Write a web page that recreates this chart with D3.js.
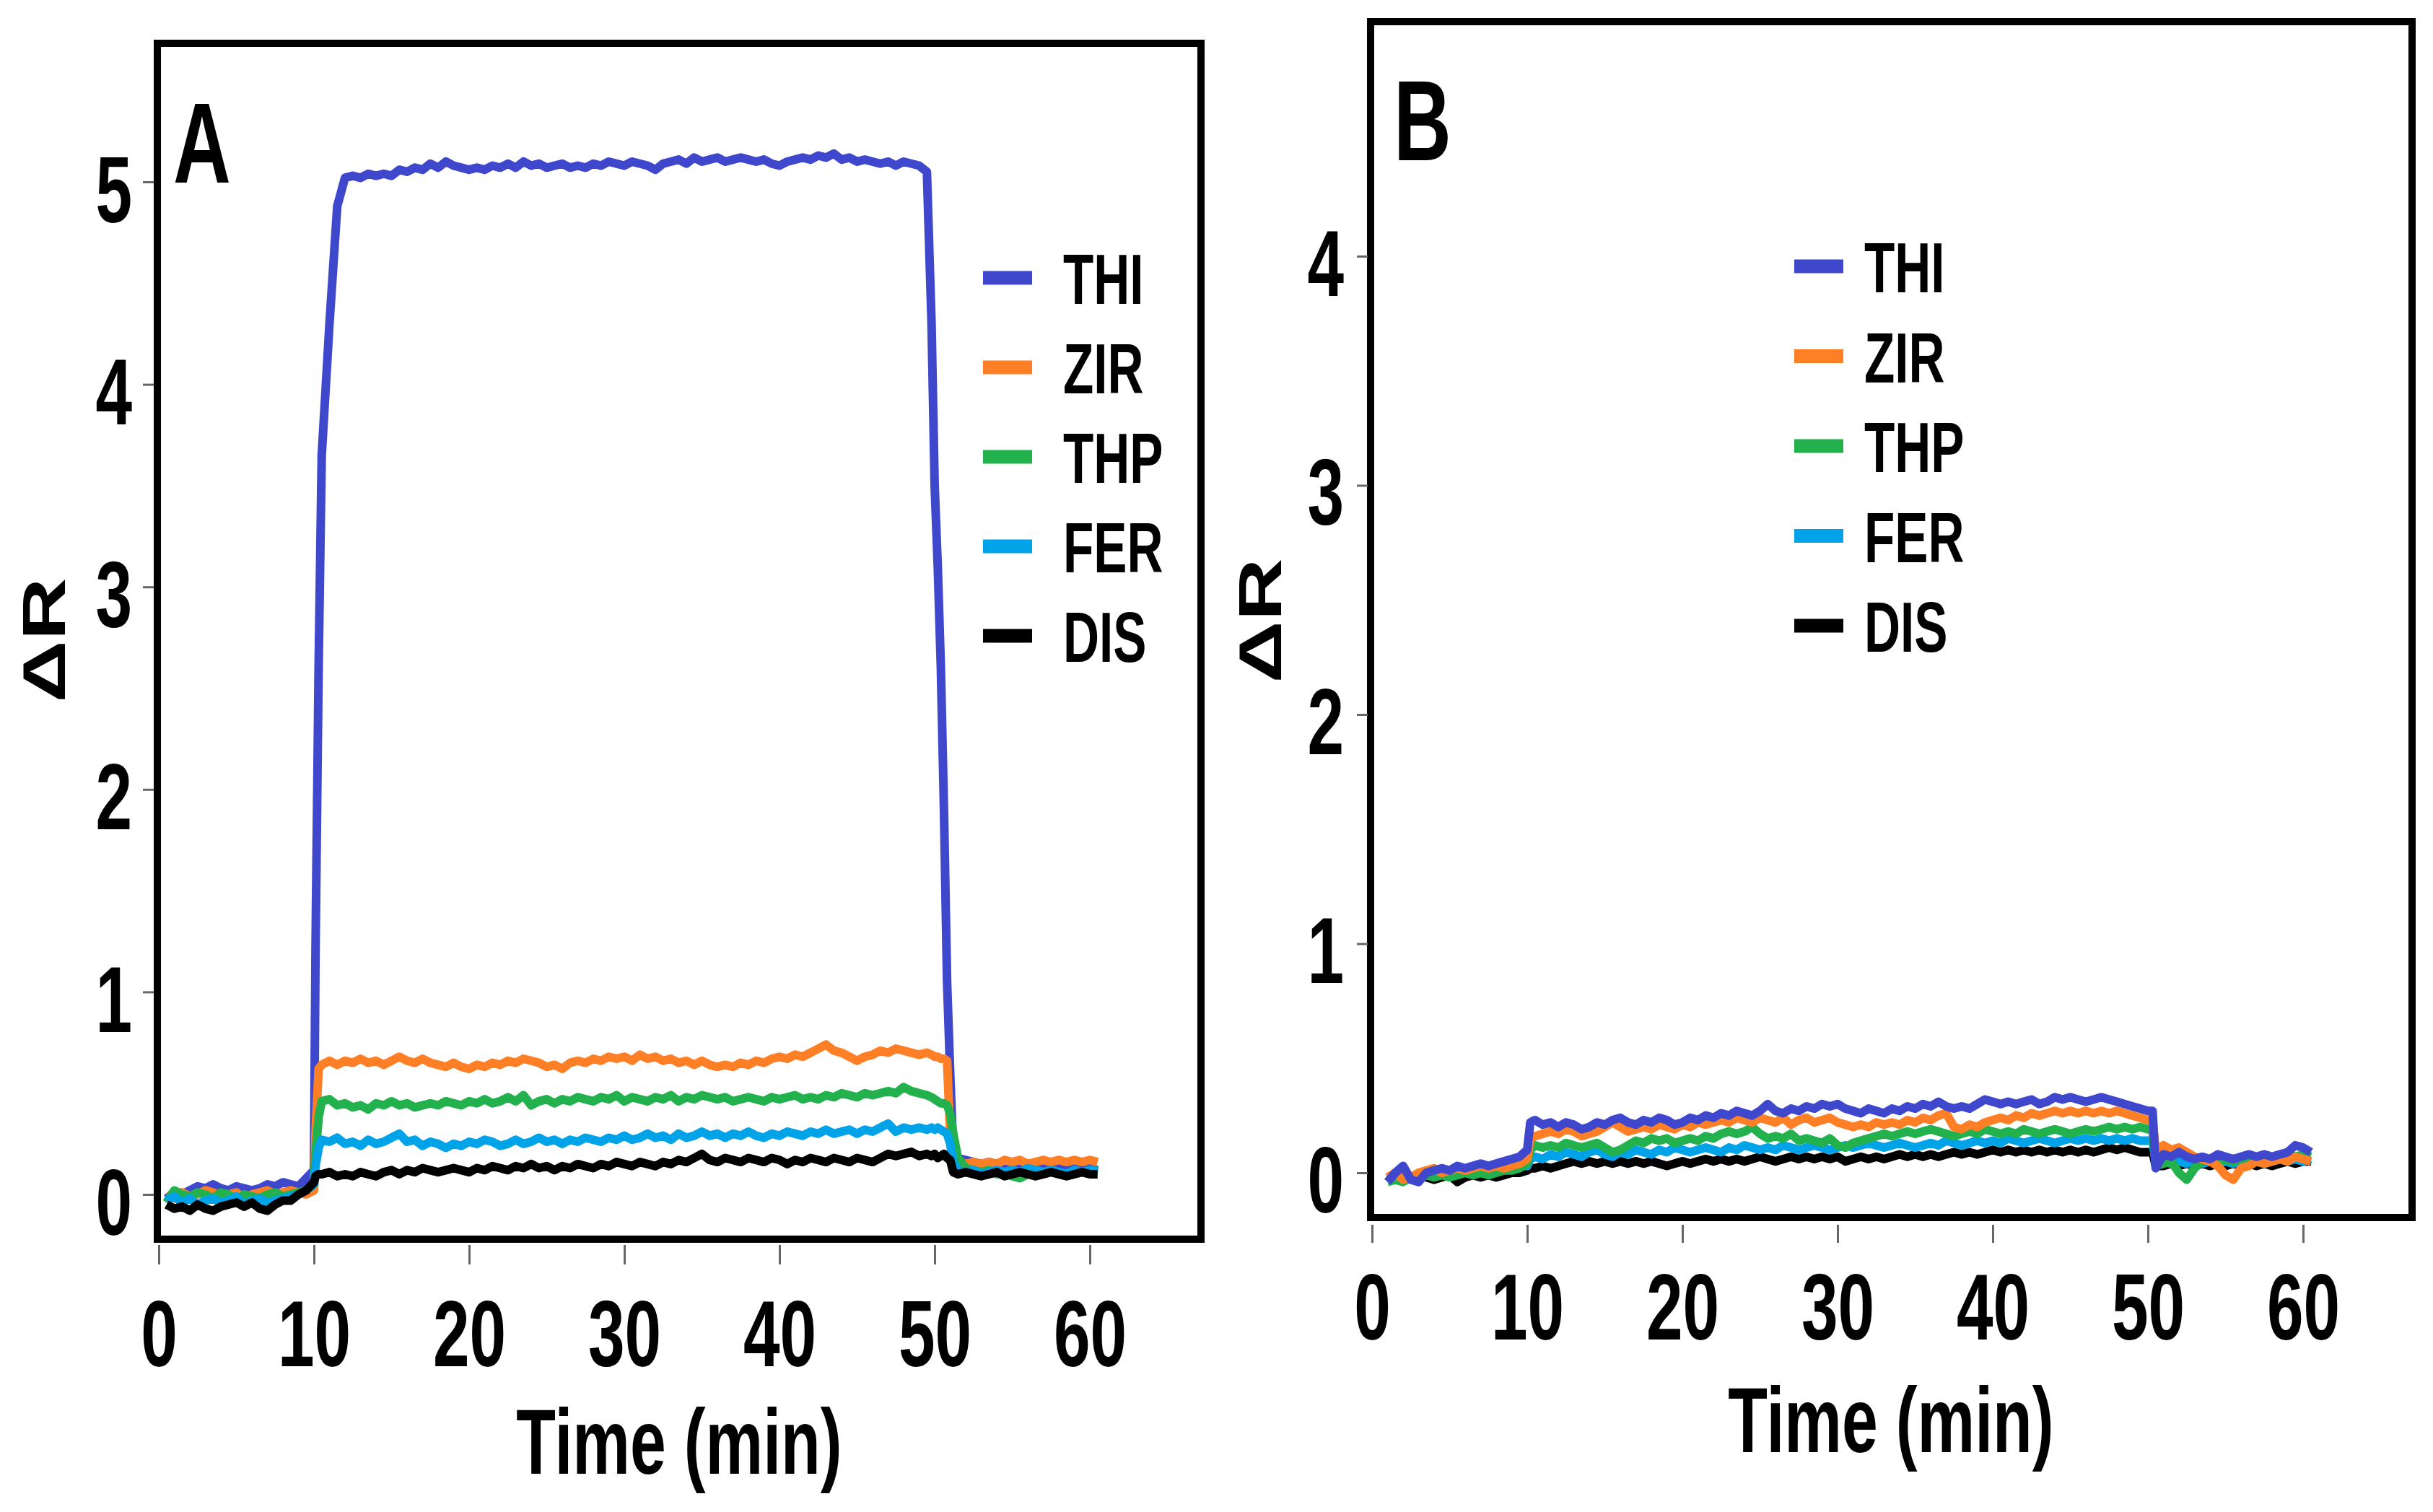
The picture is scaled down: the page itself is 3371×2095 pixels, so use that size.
<!DOCTYPE html>
<html>
<head>
<meta charset="utf-8">
<script src="https://cdn.jsdelivr.net/npm/d3@7"></script>
<style>
  body { margin: 0; background: #fff; }
  text { font-family: "Liberation Sans", Arial, sans-serif; font-weight: bold; fill: #000; }
</style>
</head>
<body>
<script>
// ---- data ----
const seriesNames = ["THI", "ZIR", "THP", "FER", "DIS"];
const seriesColors = ["#3f48cc", "#ff7f27", "#22b14c", "#00a2e8", "#000000"];
const xTicks = [0, 10, 20, 30, 40, 50, 60];
const yTicksA = [0, 1, 2, 3, 4, 5];
const yTicksB = [0, 1, 2, 3, 4];

// panel A (min)
const timeA = [
  0.5,1,1.5,2,2.5,3,3.5,4,4.5,5,
  5.5,6,6.5,7,7.5,8,8.5,9,9.5,10,
  10.1,10.3,10.5,11,11.5,12,12.5,13,13.5,14,
  14.5,15,15.5,16,16.5,17,17.5,18,18.5,19,
  19.5,20,20.5,21,21.5,22,22.5,23,23.5,24,
  24.5,25,25.5,26,26.5,27,27.5,28,28.5,29,
  29.5,30,30.5,31,31.5,32,32.5,33,33.5,34,
  34.5,35,35.5,36,36.5,37,37.5,38,38.5,39,
  39.5,40,40.5,41,41.5,42,42.5,43,43.5,44,
  44.5,45,45.5,46,46.5,47,47.5,48,48.5,49,
  49.5,49.8,50,50.2,50.4,50.6,50.8,51,51.2,51.5,
  52,52.5,53,53.5,54,54.5,55,55.5,56,56.5,
  57,57.5,58,58.5,59,59.5,60,60.5
];
const thiA = [
  -0.02,0.01,0.0,0.02,0.04,0.03,0.05,0.03,0.02,0.04,
  0.03,0.02,0.03,0.05,0.04,0.06,0.05,0.04,0.08,0.12,
  1.2,2.6,3.65,4.3,4.88,5.02,5.03,5.02,5.04,5.03,
  5.04,5.03,5.06,5.05,5.07,5.06,5.09,5.07,5.1,5.08,
  5.07,5.06,5.07,5.06,5.08,5.07,5.09,5.07,5.1,5.08,
  5.09,5.07,5.08,5.09,5.07,5.08,5.07,5.09,5.08,5.1,
  5.09,5.08,5.1,5.09,5.08,5.06,5.09,5.1,5.11,5.09,
  5.12,5.1,5.11,5.12,5.1,5.11,5.12,5.11,5.1,5.11,
  5.09,5.08,5.1,5.11,5.12,5.11,5.13,5.12,5.14,5.11,
  5.12,5.1,5.11,5.1,5.09,5.1,5.08,5.1,5.09,5.08,
  5.05,4.3,3.5,3.1,2.6,1.9,1.05,0.6,0.2,0.18,
  0.17,0.16,0.15,0.16,0.15,0.14,0.15,0.14,0.13,0.14,
  0.13,0.14,0.13,0.12,0.13,0.12,0.13,0.12
];
const zirA = [
  0.0,-0.02,0.01,-0.01,0.0,0.02,0.01,-0.01,0.0,0.01,
  -0.02,0.0,0.01,0.02,0.0,0.01,0.02,0.01,0.0,0.02,
  0.3,0.62,0.64,0.66,0.64,0.66,0.65,0.67,0.65,0.66,
  0.64,0.66,0.68,0.66,0.65,0.67,0.65,0.64,0.63,0.65,
  0.63,0.62,0.64,0.63,0.65,0.64,0.66,0.65,0.67,0.66,
  0.65,0.63,0.64,0.62,0.65,0.66,0.65,0.67,0.66,0.68,
  0.67,0.68,0.66,0.69,0.67,0.68,0.66,0.67,0.65,0.66,
  0.64,0.66,0.64,0.63,0.64,0.63,0.65,0.64,0.66,0.65,
  0.67,0.68,0.67,0.69,0.68,0.7,0.72,0.74,0.71,0.7,
  0.68,0.66,0.68,0.69,0.71,0.7,0.72,0.71,0.7,0.69,
  0.7,0.69,0.68,0.68,0.67,0.67,0.66,0.3,0.2,0.16,
  0.15,0.16,0.15,0.16,0.15,0.17,0.16,0.17,0.15,0.16,
  0.17,0.16,0.17,0.16,0.17,0.16,0.17,0.16
];
const thpA = [
  -0.04,0.02,0.0,-0.01,0.01,0.0,-0.02,0.01,0.0,-0.03,
  0.0,-0.01,-0.02,0.0,0.01,-0.01,0.0,0.01,0.02,0.05,
  0.2,0.38,0.46,0.47,0.44,0.45,0.43,0.44,0.42,0.45,
  0.44,0.46,0.44,0.45,0.43,0.44,0.45,0.44,0.46,0.45,
  0.44,0.46,0.45,0.47,0.45,0.46,0.48,0.46,0.49,0.44,
  0.46,0.47,0.45,0.47,0.46,0.48,0.47,0.46,0.48,0.47,
  0.49,0.46,0.48,0.47,0.46,0.48,0.47,0.49,0.46,0.48,
  0.47,0.49,0.48,0.47,0.48,0.46,0.47,0.48,0.47,0.46,
  0.48,0.47,0.48,0.49,0.47,0.48,0.47,0.49,0.48,0.5,
  0.49,0.48,0.5,0.49,0.5,0.51,0.5,0.53,0.51,0.5,
  0.49,0.48,0.47,0.46,0.45,0.45,0.44,0.4,0.3,0.18,
  0.13,0.12,0.11,0.12,0.1,0.11,0.09,0.08,0.1,0.11,
  0.1,0.12,0.11,0.1,0.12,0.11,0.12,0.11
];
const ferA = [
  -0.03,-0.01,-0.04,-0.02,-0.05,-0.03,-0.02,-0.04,-0.03,-0.01,
  -0.05,-0.03,-0.02,-0.04,-0.03,-0.02,-0.01,0.0,0.02,0.05,
  0.14,0.23,0.27,0.26,0.28,0.25,0.26,0.24,0.27,0.25,
  0.26,0.28,0.3,0.26,0.27,0.24,0.26,0.25,0.23,0.25,
  0.24,0.26,0.25,0.27,0.26,0.24,0.25,0.27,0.25,0.26,
  0.28,0.26,0.27,0.25,0.27,0.26,0.28,0.27,0.26,0.28,
  0.27,0.29,0.27,0.28,0.3,0.28,0.29,0.27,0.3,0.28,
  0.29,0.31,0.29,0.3,0.28,0.3,0.29,0.31,0.29,0.28,
  0.3,0.29,0.31,0.3,0.29,0.31,0.3,0.32,0.3,0.31,
  0.32,0.3,0.32,0.31,0.33,0.35,0.31,0.33,0.32,0.33,
  0.32,0.33,0.32,0.33,0.32,0.31,0.3,0.25,0.16,0.12,
  0.11,0.12,0.1,0.11,0.12,0.11,0.12,0.11,0.13,0.12,
  0.11,0.12,0.11,0.1,0.12,0.11,0.12,0.12
];
const disA = [
  -0.05,-0.07,-0.06,-0.08,-0.05,-0.07,-0.08,-0.06,-0.05,-0.04,
  -0.06,-0.04,-0.07,-0.08,-0.05,-0.03,-0.03,0.0,0.02,0.06,
  0.09,0.1,0.1,0.11,0.09,0.1,0.09,0.11,0.1,0.09,
  0.11,0.12,0.1,0.12,0.11,0.13,0.12,0.11,0.12,0.13,
  0.12,0.11,0.13,0.12,0.14,0.13,0.12,0.14,0.13,0.15,
  0.13,0.14,0.12,0.14,0.13,0.15,0.14,0.13,0.15,0.14,
  0.16,0.15,0.14,0.16,0.15,0.14,0.16,0.15,0.17,0.16,
  0.18,0.2,0.17,0.16,0.18,0.17,0.16,0.18,0.17,0.16,
  0.18,0.17,0.15,0.17,0.16,0.18,0.17,0.16,0.18,0.17,
  0.16,0.18,0.17,0.16,0.18,0.2,0.19,0.2,0.21,0.19,
  0.2,0.19,0.2,0.18,0.19,0.2,0.18,0.17,0.11,0.1,
  0.11,0.1,0.09,0.1,0.11,0.09,0.1,0.11,0.1,0.09,
  0.1,0.11,0.1,0.09,0.1,0.11,0.1,0.1
];

// panel B (min)
const timeB = [
  1,1.5,2,2.5,3,3.5,4,4.5,5,5.5,
  6,6.5,7,7.5,8,8.5,9,9.5,10,10.2,
  10.5,11,11.5,12,12.5,13,13.5,14,14.5,15,
  15.5,16,16.5,17,17.5,18,18.5,19,19.5,20,
  20.5,21,21.5,22,22.5,23,23.5,24,24.5,25,
  25.5,26,26.5,27,27.5,28,28.5,29,29.5,30,
  30.5,31,31.5,32,32.5,33,33.5,34,34.5,35,
  35.5,36,36.5,37,37.5,38,38.5,39,39.5,40,
  40.5,41,41.5,42,42.5,43,43.5,44,44.5,45,
  45.5,46,46.5,47,47.5,48,48.5,49,49.5,50,
  50.3,50.5,51,51.5,52,52.5,53,53.5,54,54.5,
  55,55.5,56,56.5,57,57.5,58,58.5,59,59.5,
  60,60.5
];
const thiB = [
  -0.04,0.0,0.03,-0.03,-0.04,0.0,0.01,0.02,0.01,0.03,
  0.02,0.03,0.04,0.03,0.04,0.05,0.06,0.07,0.1,0.22,
  0.23,0.21,0.22,0.2,0.22,0.21,0.19,0.2,0.22,0.21,
  0.23,0.24,0.22,0.21,0.23,0.22,0.24,0.23,0.21,0.22,
  0.24,0.23,0.25,0.24,0.26,0.25,0.27,0.26,0.25,0.27,
  0.3,0.27,0.26,0.28,0.27,0.29,0.28,0.3,0.29,0.3,
  0.28,0.27,0.26,0.28,0.27,0.26,0.28,0.27,0.29,0.28,
  0.3,0.29,0.31,0.29,0.28,0.29,0.28,0.3,0.32,0.31,
  0.3,0.31,0.3,0.31,0.32,0.3,0.31,0.33,0.32,0.33,
  0.32,0.31,0.32,0.33,0.32,0.31,0.3,0.29,0.28,0.27,
  0.27,0.02,0.08,0.07,0.09,0.07,0.06,0.07,0.06,0.08,
  0.07,0.06,0.07,0.08,0.07,0.08,0.07,0.08,0.09,0.12,
  0.11,0.09
];
const zirB = [
  -0.02,0.0,-0.03,-0.02,0.0,0.01,0.02,0.0,0.01,0.02,
  0.01,0.02,0.03,0.02,0.03,0.02,0.03,0.04,0.06,0.15,
  0.16,0.17,0.18,0.17,0.19,0.18,0.16,0.17,0.18,0.2,
  0.22,0.2,0.18,0.19,0.2,0.19,0.21,0.2,0.19,0.21,
  0.2,0.22,0.21,0.22,0.23,0.22,0.24,0.23,0.22,0.24,
  0.23,0.22,0.24,0.21,0.23,0.24,0.22,0.23,0.24,0.22,
  0.21,0.2,0.21,0.2,0.22,0.21,0.22,0.21,0.23,0.22,
  0.24,0.23,0.25,0.26,0.2,0.19,0.21,0.2,0.22,0.23,
  0.24,0.23,0.25,0.24,0.26,0.25,0.26,0.27,0.26,0.27,
  0.26,0.27,0.26,0.27,0.26,0.27,0.26,0.25,0.24,0.23,
  0.23,0.1,0.12,0.1,0.11,0.09,0.07,0.06,0.05,0.03,
  -0.01,-0.03,0.02,0.03,0.05,0.04,0.05,0.06,0.05,0.07,
  0.06,0.05
];
const thpB = [
  -0.04,-0.03,-0.04,-0.02,-0.03,-0.01,-0.02,-0.01,-0.02,-0.01,
  0.0,-0.01,0.0,-0.01,0.0,0.01,0.01,0.02,0.04,0.1,
  0.12,0.11,0.12,0.11,0.13,0.12,0.11,0.12,0.13,0.11,
  0.09,0.1,0.12,0.14,0.13,0.15,0.14,0.15,0.13,0.14,
  0.15,0.14,0.16,0.15,0.17,0.18,0.17,0.18,0.2,0.17,
  0.15,0.16,0.15,0.17,0.14,0.15,0.14,0.13,0.15,0.12,
  0.11,0.13,0.14,0.15,0.16,0.17,0.16,0.17,0.18,0.17,
  0.18,0.19,0.18,0.17,0.16,0.17,0.18,0.17,0.19,0.18,
  0.17,0.18,0.17,0.19,0.18,0.17,0.18,0.19,0.18,0.17,
  0.18,0.19,0.18,0.19,0.2,0.19,0.2,0.19,0.2,0.19,
  0.19,0.03,0.04,0.05,0.0,-0.03,0.02,0.05,0.06,0.05,
  0.06,0.05,0.06,0.07,0.06,0.07,0.06,0.07,0.08,0.07,
  0.08,0.07
];
const ferB = [
  -0.03,-0.02,0.0,-0.02,-0.01,0.0,0.01,0.0,0.01,0.0,
  0.01,0.02,0.01,0.02,0.01,0.02,0.03,0.03,0.03,0.06,
  0.07,0.06,0.08,0.07,0.09,0.08,0.07,0.09,0.1,0.08,
  0.07,0.09,0.08,0.1,0.09,0.08,0.1,0.09,0.11,0.1,
  0.09,0.1,0.11,0.1,0.09,0.11,0.1,0.12,0.11,0.1,
  0.11,0.1,0.12,0.11,0.1,0.11,0.12,0.11,0.1,0.11,
  0.12,0.11,0.12,0.13,0.12,0.11,0.12,0.13,0.12,0.11,
  0.12,0.13,0.12,0.14,0.13,0.12,0.13,0.14,0.13,0.14,
  0.13,0.15,0.14,0.13,0.14,0.15,0.14,0.13,0.14,0.15,
  0.14,0.15,0.14,0.15,0.14,0.15,0.14,0.15,0.14,0.14,
  0.14,0.05,0.05,0.04,0.05,0.04,0.05,0.04,0.05,0.04,
  0.05,0.04,0.05,0.06,0.05,0.04,0.05,0.06,0.05,0.06,
  0.05,0.06
];
const disB = [
  -0.03,-0.02,-0.01,-0.02,-0.01,-0.02,-0.03,-0.02,-0.01,-0.04,
  -0.02,-0.01,-0.02,-0.01,-0.02,-0.01,0.0,0.0,0.01,0.02,
  0.02,0.03,0.02,0.03,0.04,0.05,0.04,0.05,0.04,0.05,
  0.04,0.05,0.04,0.05,0.04,0.05,0.04,0.03,0.04,0.05,
  0.04,0.05,0.06,0.05,0.06,0.05,0.06,0.05,0.06,0.07,
  0.06,0.05,0.06,0.07,0.06,0.07,0.06,0.07,0.06,0.07,
  0.05,0.06,0.07,0.06,0.07,0.06,0.07,0.08,0.07,0.08,
  0.07,0.08,0.07,0.08,0.09,0.08,0.09,0.08,0.09,0.1,
  0.09,0.1,0.09,0.1,0.09,0.1,0.09,0.1,0.09,0.1,
  0.09,0.1,0.09,0.1,0.11,0.1,0.11,0.1,0.09,0.09,
  0.09,0.03,0.03,0.04,0.03,0.04,0.03,0.04,0.03,0.04,
  0.03,0.04,0.03,0.04,0.03,0.04,0.03,0.04,0.05,0.04,
  0.05,0.05
];

// ---- drawing ----
const SX = 0.7; // the figure's lettering is horizontally condensed

const svg = d3.select("body").append("svg")
    .attr("width", 3371)
    .attr("height", 2095);

svg.append("rect").attr("width", 3371).attr("height", 2095).attr("fill", "#fff");

function drawPanel(p) {
  const g = svg.append("g");
  const x = d3.scaleLinear().domain([0, 60]).range(p.xRange);
  const y = d3.scaleLinear().domain([0, p.yMax]).range(p.yRange);

  // data lines
  const line = d3.line()
      .x((d, i) => x(p.time[i]))
      .y(d => y(d));
  p.order.forEach(k => {
    g.append("path")
        .datum(p.values[k])
        .attr("d", line)
        .attr("fill", "none")
        .attr("stroke", seriesColors[k])
        .attr("stroke-width", 12)
        .attr("stroke-linejoin", "round");
  });

  // frame
  const [fx0, fy0, fx1, fy1] = p.frame;
  g.append("rect")
      .attr("x", fx0).attr("y", fy0)
      .attr("width", fx1 - fx0).attr("height", fy1 - fy0)
      .attr("fill", "none")
      .attr("stroke", "#000")
      .attr("stroke-width", 10);

  // x axis
  const xa = g.append("g")
      .attr("transform", `translate(0,${p.xAxisY})`)
      .call(d3.axisBottom(x).tickValues(xTicks).tickFormat(d3.format("d"))
        .tickSize(p.xTickLen).tickSizeOuter(0));
  xa.select(".domain").remove();
  xa.selectAll(".tick line").attr("stroke", "#666").attr("stroke-width", 3);
  xa.selectAll(".tick text")
      .attr("x", 0).attr("y", 0).attr("dy", null)
      .attr("transform", `translate(0,${p.xLabelDy}) scale(${SX},1)`)
      .attr("font-size", 130)
      .attr("font-family", null)
      .attr("text-anchor", "middle");

  // y axis
  const ya = g.append("g")
      .attr("transform", `translate(${p.yAxisX},0)`)
      .call(d3.axisLeft(y).tickValues(p.yTicks).tickFormat(d3.format("d"))
        .tickSize(15).tickSizeOuter(0));
  ya.select(".domain").remove();
  ya.selectAll(".tick line").attr("stroke", "#666").attr("stroke-width", 3);
  ya.selectAll(".tick text")
      .attr("x", 0).attr("y", 0).attr("dy", null)
      .attr("transform", `translate(${p.yLabelDx},${p.yLabelDy}) scale(${SX},1)`)
      .attr("font-size", 130)
      .attr("font-family", null)
      .attr("text-anchor", "end");

  // panel letter
  g.append("text")
      .attr("transform", `translate(${p.letter[0]},${p.letter[1]}) scale(${SX},1)`)
      .attr("font-size", 158)
      .text(p.label);

  // axis titles
  g.append("text")
      .attr("transform", `translate(${p.title[0]},${p.title[1]}) scale(${SX},1)`)
      .attr("text-anchor", "middle")
      .attr("font-size", 128)
      .text("Time (min)");
  g.append("text")
      .attr("transform", `translate(${p.yTitle[0]},${p.yTitle[1]}) rotate(-90) scale(1,${SX})`)
      .attr("text-anchor", "middle")
      .attr("font-size", 120)
      .text("\u0394R");

  // legend
  const lg = p.legend;
  seriesNames.forEach((name, i) => {
    const ly = lg.y0 + i * lg.dy;
    g.append("line")
        .attr("x1", lg.x1).attr("x2", lg.x2)
        .attr("y1", ly).attr("y2", ly)
        .attr("stroke", seriesColors[i])
        .attr("stroke-width", 19);
    g.append("text")
        .attr("transform", `translate(${lg.tx},${ly + 36}) scale(${SX},1)`)
        .attr("font-size", 99)
        .text(name);
  });
}

drawPanel({
  label: "A",
  time: timeA,
  values: [thiA, zirA, thpA, ferA, disA],
  order: [0, 1, 2, 3, 4],
  xRange: [220, 1510],
  yRange: [1655, 252],
  yMax: 5,
  yTicks: yTicksA,
  frame: [218, 60, 1664, 1717],
  xAxisY: 1725, xTickLen: 27, xLabelDy: 168,
  yAxisX: 213, yLabelDx: -30, yLabelDy: 55,
  letter: [240, 253],
  title: [941, 2042],
  yTitle: [90, 887],
  legend: { x1: 1362, x2: 1430, tx: 1473, y0: 385, dy: 124 }
});

drawPanel({
  label: "B",
  time: timeB,
  values: [thiB, zirB, thpB, ferB, disB],
  order: [4, 3, 2, 1, 0],
  xRange: [1901, 3191],
  yRange: [1625, 355],
  yMax: 4,
  yTicks: yTicksB,
  frame: [1899, 30, 3342, 1687],
  xAxisY: 1697, xTickLen: 25, xLabelDy: 159,
  yAxisX: 1895, yLabelDx: -33, yLabelDy: 54,
  letter: [1931, 222],
  title: [2620, 2012],
  yTitle: [1775, 860],
  legend: { x1: 2486, x2: 2554, tx: 2583, y0: 369, dy: 124.5 }
});
</script>
</body>
</html>
